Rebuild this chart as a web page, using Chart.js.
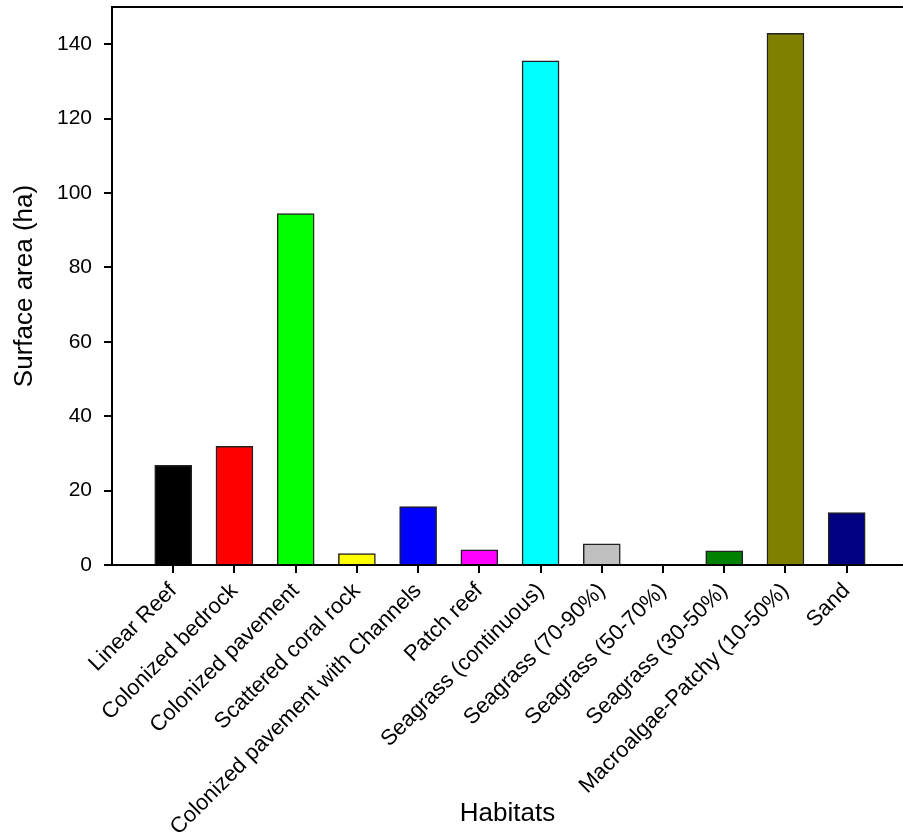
<!DOCTYPE html>
<html>
<head>
<meta charset="utf-8">
<script src="https://cdn.jsdelivr.net/npm/chart.js@4/dist/chart.umd.min.js"></script>
<style>
  html, body { margin: 0; padding: 0; background: #fff; overflow: hidden; }
  #wrap { width: 903px; height: 838px; position: relative; }
</style>
</head>
<body>
<div id="wrap"><canvas id="chart"></canvas></div>
<script>
// Habitat surface areas.
const habitats = [
  "Linear Reef", "Colonized bedrock", "Colonized pavement", "Scattered coral rock",
  "Colonized pavement with Channels", "Patch reef", "Seagrass (continuous)",
  "Seagrass (70-90%)", "Seagrass (50-70%)", "Seagrass (30-50%)",
  "Macroalgae-Patchy (10-50%)", "Sand"
];
const areaHa = [26.8, 31.9, 94.5, 3.1, 15.7, 4.1, 135.5, 5.7, 0, 3.8, 142.9, 14.1];
const barColors = [
  "#000000", "#ff0000", "#00ff00", "#ffff00", "#0000ff", "#ff00ff",
  "#00ffff", "#c0c0c0", "#808080", "#008000", "#808000", "#000080"
];
const yTicks = [0, 20, 40, 60, 80, 100, 120, 140];

const FONT = "'Liberation Sans', Arial, Helvetica, sans-serif";

new Chart(document.getElementById("chart"), {
  type: "bar",
  data: {
    datasets: [{
      data: areaHa.map((v, i) => ({ x: i, y: v })),
      backgroundColor: barColors,
      borderColor: "#222",
      borderWidth: 1.5,
      barThickness: 37
    }]
  },
  options: {
    responsive: true,
    maintainAspectRatio: false,
    animation: false,
    layout: { padding: { top: 7, left: 0, right: 0, bottom: 0 } },
    plugins: { legend: { display: false }, tooltip: { enabled: false } },
    scales: {
      x: {
        type: "linear",
        position: "bottom",
        offset: false,
        min: -1,
        max: 11.92,
        afterFit: (s) => { s.height = 273; s.paddingLeft = 0; s.paddingRight = 0; },
        border: { display: true, color: "#000", width: 2 },
        grid: { display: true, offset: false, drawOnChartArea: false, drawTicks: true, tickLength: 8, color: "#000", lineWidth: 2 },
        ticks: {
          stepSize: 1,
          includeBounds: false,
          autoSkip: false,
          maxRotation: 45,
          minRotation: 45,
          padding: 5,
          color: "#000",
          font: { family: FONT, size: 22 },
          callback: (v) => (Number.isInteger(v) && v >= 0 && v < habitats.length) ? habitats[v] : ""
        },
        afterBuildTicks: (s) => { s.ticks = s.ticks.filter((t) => Number.isInteger(t.value) && t.value >= 0); },
        title: {
          display: true,
          text: "Habitats",
          color: "#000",
          font: { family: FONT, size: 26 },
          padding: { top: 0, bottom: 9 }
        }
      },
      xTop: {
        type: "linear",
        position: "top",
        offset: false,
        afterFit: (s) => { s.height = 0; s.paddingLeft = 0; s.paddingRight = 0; },
        border: { display: true, color: "#000", width: 2 },
        grid: { display: false, drawTicks: false },
        ticks: { display: false }
      },
      y: {
        min: 0,
        max: 150,
        afterFit: (s) => { s.width = 112; s.paddingTop = 0; s.paddingBottom = 0; },
        afterBuildTicks: (s) => { s.ticks = yTicks.map((v) => ({ value: v })); },
        border: { display: true, color: "#000", width: 2 },
        grid: { display: true, drawOnChartArea: false, drawTicks: true, tickLength: 8, color: "#000", lineWidth: 2 },
        ticks: {
          padding: 12,
          color: "#000",
          font: { family: FONT, size: 21 }
        },
        title: {
          display: true,
          text: "Surface area (ha)",
          color: "#000",
          font: { family: FONT, size: 26 },
          padding: { top: 9, bottom: 0 }
        }
      }
    }
  }
});
</script>
</body>
</html>
